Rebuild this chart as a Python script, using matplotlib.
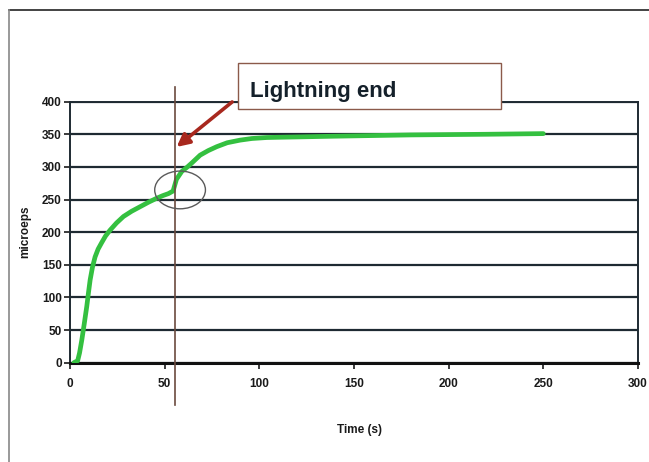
import matplotlib
matplotlib.use("Agg")
import matplotlib.pyplot as plt
from matplotlib.patches import Ellipse, Rectangle
from matplotlib.lines import Line2D

plt.rcParams['font.family'] = ['Liberation Sans', 'DejaVu Sans']
plt.rcParams['font.weight'] = 'bold'

time_s = [2, 4, 5, 6.2, 7.5, 8.8, 9.7, 10.6, 11.8, 13.2, 14.8, 16.7, 18.7, 21.1,
          24.5, 28.2, 32.5, 37.0, 41.5, 45.8, 49, 51.9, 54.4, 55.3, 56.2, 59.0,
          62, 64.3, 68.7, 73, 77.5, 83, 89.8, 96, 103.9, 112, 121.5, 139, 180, 220, 250]
microeps = [0, 3, 15, 35, 60, 86, 107, 127, 146, 162, 174, 184, 194, 203,
            214, 224, 232, 239, 246, 252, 256, 259, 263, 272, 281, 293,
            300, 306, 318, 325, 331, 337, 341, 343.5, 345, 345.5, 346, 347, 349, 350, 351]

lightning_end = 55.5
x_ticks = [0, 50, 100, 150, 200, 250, 300]
y_ticks = [0, 50, 100, 150, 200, 250, 300, 350, 400]

fig = plt.figure(figsize=(6.49, 4.62), dpi=100)
ax = fig.add_axes([0.108, 0.215, 0.875, 0.565])

grid_col = '#1e2a32'
ax.set_xlim(0, 300)
ax.set_ylim(0, 400)
ax.set_xticks(x_ticks)
ax.set_yticks(y_ticks)
ax.grid(axis='y', color=grid_col, lw=1.6)
ax.set_axisbelow(True)
for side in ['left', 'right', 'top']:
    ax.spines[side].set_color(grid_col)
    ax.spines[side].set_linewidth(1.4)
ax.spines['bottom'].set_color('#111111')
ax.spines['bottom'].set_linewidth(2.2)
ax.tick_params(axis='both', labelsize=8.5, colors='#1a1a1a', length=4, width=1.2, pad=2)
ax.tick_params(axis='x', pad=7)

ax.plot(time_s, microeps, color='#34c040', lw=3.4, solid_capstyle='round',
        solid_joinstyle='round', zorder=4)

# lightning end marker
ax.plot([lightning_end, lightning_end], [-65, 422], color='#6b4a3e', lw=1.2,
        clip_on=False, zorder=5)
ax.add_patch(Ellipse((58.1, 264.7), 26.8, 57.8, fill=False, ec='#5a5a5a', lw=1.0, zorder=6))
ax.annotate('', xy=(56.3, 330.6), xytext=(85.6, 399.5),
            arrowprops=dict(arrowstyle='-|>,head_length=0.75,head_width=0.38',
                            color='#a8281e', lw=2.6, shrinkA=0, shrinkB=0),
            annotation_clip=False, zorder=7)

ax.set_xlabel('Time (s)', fontsize=8.5, fontweight='bold', color='#1a1a1a')
ax.xaxis.set_label_coords(0.51, -0.235)
ax.set_ylabel('microeps', fontsize=8.5, fontweight='bold', color='#1a1a1a')
ax.yaxis.set_label_coords(-0.068, 0.5)

# callout box
fig.patches.append(Rectangle((0.3667, 0.7641), 0.4052, 0.0996, transform=fig.transFigure,
                             fill=True, fc='white', ec='#8b5a4a', lw=1.0, zorder=10))
fig.text(0.3852, 0.7907, 'Lightning end', fontsize=16, fontweight='bold',
         color='#14202a', va='baseline', ha='left', zorder=11)

# outer frame lines
fig.add_artist(Line2D([9 / 649, 1], [1 - 10 / 462, 1 - 10 / 462], color='#222222', lw=1.2,
                      transform=fig.transFigure))
fig.add_artist(Line2D([9 / 649, 9 / 649], [0, 1 - 10 / 462], color='#888888', lw=1.2,
                      transform=fig.transFigure))

fig.savefig('out.png', dpi=100)
